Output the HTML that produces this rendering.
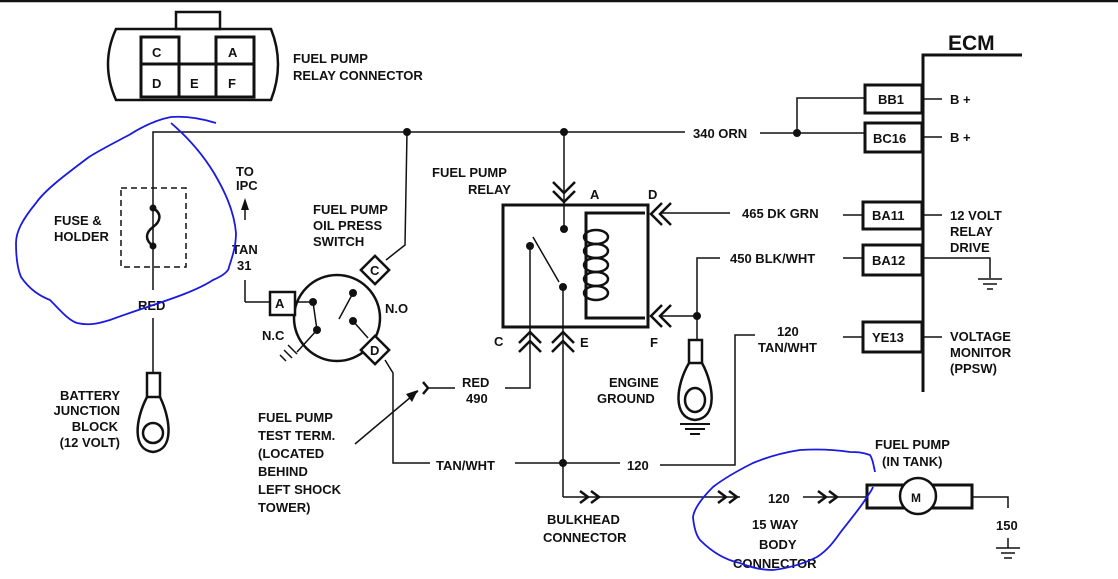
<!DOCTYPE html>
<html><head><meta charset="utf-8"><style>
html,body{margin:0;padding:0;background:#fff}
svg{display:block}
text{font-family:"Liberation Sans",sans-serif;font-weight:bold;font-size:13px;fill:#111}
</style></head><body>
<svg width="1118" height="579" viewBox="0 0 1118 579" xmlns="http://www.w3.org/2000/svg">
<g stroke="#111" fill="none" stroke-width="1.5">
<line x1="0" y1="1" x2="1118" y2="1" stroke-width="2.5"/>
<!-- relay connector -->
<path d="M116,29 L271,29 Q285,64 271,100 L116,100 Q100,64 116,29 Z" stroke-width="2.5"/>
<rect x="176" y="12" width="44" height="17" stroke-width="2.5"/>
<rect x="141" y="37" width="38" height="27" stroke-width="3"/>
<rect x="216" y="37" width="38" height="27" stroke-width="3"/>
<rect x="141" y="64" width="113" height="33" stroke-width="3"/>
<line x1="179" y1="64" x2="179" y2="97" stroke-width="3"/>
<line x1="216" y1="64" x2="216" y2="97" stroke-width="3"/>
<!-- top wire -->
<polyline points="153,245 153,132 685,132"/>
<line x1="760" y1="133" x2="865" y2="133"/>
<polyline points="797,133 797,98 865,98"/>
<!-- fuse -->
<rect x="121" y="188" width="65" height="79" stroke-dasharray="6,4"/>
<path d="M153,208 C163,214 160,222 153,227 C145,233 145,240 153,246" stroke-width="2.5"/>
<line x1="153" y1="246" x2="153" y2="290"/>
<line x1="153" y1="318" x2="153" y2="373"/>
<!-- battery terminal -->
<rect x="147" y="373" width="13" height="24" stroke-width="2.5"/>
<path d="M147,397 C135,420 132,450 153,452 C174,450 171,420 160,397" stroke-width="2.5"/>
<circle cx="153" cy="433" r="10" stroke-width="2.5"/>
<!-- IPC arrow -->
<line x1="245" y1="220" x2="245" y2="205"/>
<line x1="245" y1="280" x2="245" y2="302"/>
<line x1="245" y1="302" x2="270" y2="302"/>
<!-- switch -->
<circle cx="337" cy="318" r="43" stroke-width="2.5"/>
<rect x="270" y="292" width="25" height="23" stroke-width="2.5" fill="#fff"/>
<rect x="365" y="260" width="20" height="20" transform="rotate(45 375 270)" stroke-width="2.5" fill="#fff"/>
<rect x="365" y="340" width="20" height="20" transform="rotate(45 375 350)" stroke-width="2.5" fill="#fff"/>
<polyline points="386,260 405,245 407,132"/>
<line x1="295" y1="302" x2="313" y2="302"/>
<line x1="313" y1="302" x2="317" y2="330"/>
<line x1="353" y1="293" x2="339" y2="319"/>
<line x1="353" y1="321" x2="368" y2="338"/>
<line x1="317" y1="330" x2="297" y2="352"/>
<line x1="284" y1="350" x2="292" y2="358"/><line x1="288" y1="345" x2="297" y2="354"/><line x1="280" y1="355" x2="286" y2="361"/>
<polyline points="385,360 393,373 393,463 430,463"/>
<line x1="515" y1="463" x2="620" y2="463"/>
<polyline points="660,465 735,465 735,335 755,335"/>
<!-- test term -->
<line x1="355" y1="444" x2="418" y2="391"/>
<path d="M423,382 L428,388 L423,394" stroke-width="2.5"/>
<line x1="428" y1="388" x2="455" y2="388"/>
<polyline points="505,388 530,388 530,337"/>
<!-- relay -->
<rect x="503" y="205" width="145" height="122" stroke-width="3"/>
<polyline points="645,213 586,213 586,318 645,318" stroke-width="3"/>
<g stroke-width="2.5">
<ellipse cx="596" cy="237" rx="12" ry="7"/><ellipse cx="596" cy="251" rx="12" ry="7"/><ellipse cx="596" cy="265" rx="12" ry="7"/><ellipse cx="596" cy="279" rx="12" ry="7"/><ellipse cx="596" cy="293" rx="12" ry="7"/>
</g>
<line x1="564" y1="132" x2="564" y2="229"/>
<path d="M553,182 L564,193 L575,182 M553,191 L564,202 L575,191" stroke-width="2.5"/>
<line x1="533" y1="237" x2="559" y2="282"/>
<line x1="530" y1="246" x2="530" y2="337"/>
<line x1="563" y1="287" x2="563" y2="497"/>
<path d="M519,343 L530,332 L541,343 M519,352 L530,341 L541,352" stroke-width="2.5"/>
<path d="M552,343 L563,332 L574,343 M552,352 L563,341 L574,352" stroke-width="2.5"/>
<path d="M662,203 L651,214 L662,225 M671,203 L660,214 L671,225" stroke-width="2.5"/>
<line x1="660" y1="213" x2="730" y2="213"/>
<path d="M662,305 L651,316 L662,327 M671,305 L660,316 L671,327" stroke-width="2.5"/>
<line x1="660" y1="316" x2="697" y2="316"/>
<polyline points="720,258 697,258 697,340"/>
<!-- engine ground -->
<rect x="689" y="340" width="13" height="23" stroke-width="2.5"/>
<path d="M689,363 C676,385 672,418 695,420 C718,418 714,385 702,363" stroke-width="2.5"/>
<ellipse cx="695" cy="400" rx="10" ry="12" stroke-width="2.5"/>
<line x1="680" y1="424" x2="710" y2="424" stroke-width="2"/><line x1="685" y1="429" x2="705" y2="429" stroke-width="2"/><line x1="690" y1="434" x2="700" y2="434" stroke-width="2"/>
<!-- bottom -->
<polyline points="563,497 740,497"/>
<path d="M580,491 L588,497 L580,503 M591,491 L599,497 L591,503" stroke-width="2.5"/>
<path d="M718,491 L726,497 L718,503 M729,491 L737,497 L729,503" stroke-width="2.5"/>
<line x1="803" y1="497" x2="840" y2="497"/>
<path d="M818,491 L826,497 L818,503 M829,491 L837,497 L829,503" stroke-width="2.5"/>
<line x1="840" y1="497" x2="867" y2="497"/>
<rect x="867" y="485" width="105" height="23" stroke-width="3"/>
<circle cx="918" cy="496" r="18" stroke-width="2.5" fill="#fff"/>
<polyline points="972,497 1008,497 1008,508"/>
<line x1="1008" y1="538" x2="1008" y2="548"/>
<line x1="996" y1="548" x2="1020" y2="548"/><line x1="1001" y1="553" x2="1015" y2="553"/><line x1="1004" y1="558" x2="1012" y2="558"/>
<!-- ECM -->
<polyline points="923,392 923,55 1022,55" stroke-width="3"/>
<rect x="865" y="85" width="57" height="28" stroke-width="3"/>
<rect x="865" y="123" width="57" height="29" stroke-width="3"/>
<rect x="863" y="202" width="59" height="27" stroke-width="3"/>
<rect x="863" y="245" width="59" height="30" stroke-width="3"/>
<rect x="863" y="322" width="59" height="30" stroke-width="3"/>
<line x1="923" y1="99" x2="942" y2="99"/><line x1="923" y1="137" x2="942" y2="137"/>
<line x1="923" y1="215" x2="942" y2="215"/><line x1="923" y1="337" x2="942" y2="337"/>
<line x1="843" y1="215" x2="863" y2="215"/><line x1="843" y1="258" x2="863" y2="258"/><line x1="843" y1="337" x2="863" y2="337"/>
<polyline points="923,258 990,258 990,278"/>
<line x1="978" y1="279" x2="1002" y2="279"/><line x1="983" y1="284" x2="997" y2="284"/><line x1="987" y1="289" x2="993" y2="289"/>
</g>
<g fill="#111">
<circle cx="153" cy="208" r="3.5"/><circle cx="153" cy="246" r="3.5"/>
<circle cx="407" cy="132" r="4"/><circle cx="564" cy="132" r="4"/><circle cx="797" cy="133" r="4"/>
<circle cx="313" cy="302" r="4"/><circle cx="317" cy="330" r="4"/><circle cx="353" cy="293" r="4"/><circle cx="353" cy="321" r="4"/>
<circle cx="564" cy="229" r="4"/><circle cx="530" cy="246" r="4"/><circle cx="563" cy="287" r="4"/>
<circle cx="697" cy="316" r="4"/><circle cx="563" cy="463" r="4"/>
<path d="M245,198 L241,210 L249,210 Z"/>
<path d="M418,390 L406,394 L412,402 Z"/>
</g>
<text x="152" y="57">C</text><text x="228" y="57">A</text>
<text x="152" y="88">D</text><text x="190" y="88">E</text><text x="228" y="88">F</text>
<text x="293" y="63">FUEL PUMP</text><text x="293" y="80">RELAY CONNECTOR</text>
<text x="54" y="225">FUSE &amp;</text><text x="54" y="241">HOLDER</text>
<text x="236" y="176">TO</text><text x="236" y="190">IPC</text>
<text x="232" y="254">TAN</text><text x="237" y="270">31</text>
<text x="138" y="310">RED</text>
<text x="120" y="400" text-anchor="end">BATTERY</text><text x="120" y="415" text-anchor="end">JUNCTION</text><text x="118" y="431" text-anchor="end">BLOCK</text><text x="120" y="447" text-anchor="end">(12 VOLT)</text>
<text x="313" y="214">FUEL PUMP</text><text x="313" y="230">OIL PRESS</text><text x="313" y="246">SWITCH</text>
<text x="275" y="308">A</text><text x="370" y="275">C</text><text x="370" y="355">D</text>
<text x="385" y="313">N.O</text><text x="262" y="340">N.C</text>
<text x="432" y="177">FUEL PUMP</text><text x="468" y="194">RELAY</text>
<text x="590" y="199">A</text><text x="648" y="199">D</text>
<text x="494" y="346">C</text><text x="580" y="347">E</text><text x="650" y="347">F</text>
<text x="462" y="387">RED</text><text x="466" y="403">490</text>
<text x="258" y="422">FUEL PUMP</text><text x="258" y="440">TEST TERM.</text><text x="258" y="458">(LOCATED</text><text x="258" y="476">BEHIND</text><text x="258" y="494">LEFT SHOCK</text><text x="258" y="512">TOWER)</text>
<text x="436" y="470">TAN/WHT</text><text x="627" y="470">120</text>
<text x="609" y="387">ENGINE</text><text x="597" y="403">GROUND</text>
<text x="693" y="138">340  ORN</text>
<text x="742" y="218">465  DK GRN</text>
<text x="730" y="263">450  BLK/WHT</text>
<text x="777" y="336">120</text><text x="758" y="352">TAN/WHT</text>
<text x="948" y="50" style="font-size:21px">ECM</text>
<text x="878" y="104">BB1</text><text x="873" y="143">BC16</text>
<text x="872" y="220">BA11</text><text x="872" y="265">BA12</text><text x="872" y="342">YE13</text>
<text x="950" y="104">B +</text><text x="950" y="142">B +</text>
<text x="950" y="220">12 VOLT</text><text x="950" y="236">RELAY</text><text x="950" y="252">DRIVE</text>
<text x="950" y="341">VOLTAGE</text><text x="950" y="357">MONITOR</text><text x="950" y="373">(PPSW)</text>
<text x="547" y="524">BULKHEAD</text><text x="543" y="542">CONNECTOR</text>
<text x="768" y="503">120</text>
<text x="752" y="529">15 WAY</text><text x="759" y="549">BODY</text><text x="733" y="568">CONNECTOR</text>
<text x="875" y="449">FUEL PUMP</text><text x="882" y="466">(IN TANK)</text>
<text x="911" y="502" style="font-size:12px">M</text>
<text x="996" y="530">150</text>
<g stroke="#1a1ae0" stroke-width="1.8" fill="none">
<path d="M216,123 C200,118 185,116 171,117 C155,120 140,128 129,135 C110,145 100,150 89,157 C65,175 45,190 36,203 C22,220 16,232 16,243 C16,260 18,270 21,277 C30,290 40,296 50,300 C60,310 68,320 77,323 C90,326 100,323 110,320 C150,305 190,295 213,280 C225,275 229,270 229,267 C233,255 236,245 236,233 C234,210 224,190 214,173 C200,150 185,135 171,123"/>
<path d="M875,472 C873,462 872,458 870,455 C862,452 856,452 850,452 C830,449 815,449 800,450 C780,453 765,458 753,463 C735,472 722,480 713,487 C700,500 694,510 693,517 C694,528 696,535 700,540 C712,552 725,560 740,563 C752,568 762,570 773,570 C790,568 805,563 817,557 C828,550 835,540 840,533 C850,520 860,508 865,500 C869,494 872,490 873,487"/>
</g>
</svg>
</body></html>
